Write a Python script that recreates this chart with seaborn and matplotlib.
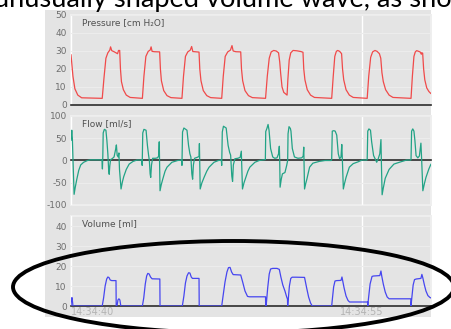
import matplotlib
matplotlib.use("Agg")
import matplotlib.pyplot as plt
import seaborn as sns
from matplotlib.patches import Rectangle, Ellipse
from matplotlib.ticker import FixedLocator, MultipleLocator

# pressure trace [cm H2O], time in seconds after 14:34:40
pressure_t = [0, 0.1, 0.2, 0.35, 0.55, 1.61,
              1.70, 1.80, 1.90, 2.0, 2.04, 2.1, 2.22, 2.32, 2.40, 2.45, 2.51, 2.55, 2.60, 2.70, 2.85, 3.05, 3.68,
              3.76, 3.86, 3.98, 4.08, 4.13, 4.18, 4.30, 4.57, 4.61, 4.66, 4.78, 4.95, 5.15, 5.72,
              5.80, 5.90, 6.02, 6.15, 6.22, 6.28, 6.40, 6.60, 6.64, 6.70, 6.82, 7.00, 7.20, 7.77,
              7.85, 7.95, 8.08, 8.22, 8.30, 8.36, 8.50, 8.75, 8.79, 8.85, 8.97, 9.15, 9.35, 10.03,
              10.12, 10.22, 10.32, 10.45, 10.58, 10.70, 10.76, 10.81, 10.88, 10.97, 11.08, 11.14,
              11.18, 11.25, 11.33, 11.45, 11.65, 11.85, 11.96, 12.0, 12.06, 12.18, 12.35, 12.55, 13.44,
              13.52, 13.60, 13.68, 13.75, 13.85, 13.95, 14.0, 14.06, 14.18, 14.35, 14.55, 15.27,
              15.35, 15.45, 15.55, 15.67, 15.78, 15.90, 15.97, 16.03, 16.10, 16.22, 16.40, 16.60, 17.53,
              17.60, 17.68, 17.75, 17.82, 17.95, 18.02, 18.06, 18.09, 18.13, 18.18, 18.24, 18.34, 18.45, 18.56]
pressure_v = [28, 16, 9, 5.5, 4.0, 3.7,
              15, 26, 29, 30.5, 32.3, 30.2, 29.6, 29.0, 28.5, 30.3, 30.3, 20, 13, 8.5, 5.5, 4.2, 3.7,
              16, 27, 29.8, 30.5, 32.3, 29.8, 29.6, 29.5, 20, 13.5, 8, 5.2, 4.1, 3.7,
              16, 27, 29.5, 30.5, 32.5, 29.7, 29.6, 29.4, 20, 13.5, 8, 5.2, 4.1, 3.7,
              16, 27, 29.5, 30.5, 33, 30.0, 29.6, 29.5, 20, 13.5, 8, 5.2, 4.1, 3.7,
              16, 26, 29.5, 30.3, 30.0, 29.0, 24, 17.5, 10, 7, 6, 5.5,
              14, 25, 29, 30.3, 30.1, 29.7, 29.3, 20, 14, 8.5, 5.5, 4.2, 3.7,
              16, 27, 29.8, 30.3, 29.8, 28.5, 20, 14, 8.5, 5.5, 4.2, 3.7,
              16, 26.5, 29.5, 30.3, 29.8, 28.5, 26, 18, 13, 8.5, 5.5, 4.2, 3.7,
              16, 27, 29.5, 30.2, 29.7, 29.3, 28.2, 29.0, 28.8, 20, 14, 9.5, 7.5, 6.3]

# flow trace [ml/s]
flow_t = [0, 0.04, 0.07, 0.10, 0.16, 0.22, 0.30, 0.40, 0.50, 0.65, 0.85, 1.0, 1.58,
          1.60, 1.62, 1.64, 1.66, 1.72, 1.80, 1.85, 1.90, 1.94, 1.97, 2.00, 2.04, 2.12, 2.22, 2.30, 2.34, 2.38,
          2.43, 2.47, 2.50, 2.58, 2.65, 2.72, 2.85, 3.0, 3.2, 3.4, 3.65,
          3.67, 3.70, 3.76, 3.87, 3.94, 4.00, 4.04, 4.08, 4.11, 4.15, 4.21, 4.35, 4.46, 4.52, 4.55, 4.57,
          4.59, 4.65, 4.73, 4.85, 4.95, 5.2, 5.5, 5.70,
          5.72, 5.75, 5.82, 5.98, 6.06, 6.13, 6.18, 6.23, 6.27, 6.31, 6.37, 6.50, 6.60, 6.62, 6.64, 6.66,
          6.75, 6.86, 7.0, 7.12, 7.37, 7.6, 7.75,
          7.77, 7.80, 7.86, 8.00, 8.10, 8.18, 8.23, 8.29, 8.33, 8.37, 8.45, 8.60, 8.72, 8.78, 8.81, 8.84,
          8.92, 9.01, 9.12, 9.22, 9.48, 9.7, 10.0,
          10.02, 10.04, 10.10, 10.16, 10.21, 10.29, 10.40, 10.50, 10.62, 10.70, 10.74, 10.76, 10.78, 10.84,
          10.90, 11.03, 11.12, 11.17,
          11.19, 11.24, 11.31, 11.34, 11.41, 11.52, 11.70, 11.90, 11.97, 12.00, 12.02, 12.04, 12.10, 12.16,
          12.30, 12.47, 12.8, 13.1, 13.42,
          13.44, 13.47, 13.55, 13.62, 13.70, 13.78, 13.85, 13.92, 13.96, 14.00, 14.04, 14.10, 14.18, 14.35,
          14.55, 14.8, 15.0, 15.25,
          15.27, 15.30, 15.36, 15.44, 15.50, 15.60, 15.70, 15.76, 15.84, 15.92, 15.98, 16.00, 16.04, 16.10,
          16.20, 16.40, 16.65, 17.0, 17.3, 17.51,
          17.53, 17.56, 17.62, 17.68, 17.73, 17.79, 17.88, 17.96, 18.00, 18.04, 18.08, 18.14, 18.22, 18.30,
          18.45, 18.56]
flow_v = [45, 68, 50, 5, -76, -60, -42, -22, -10, -4, 0, 1.5, 1.5,
          -2, -19, 10, 62, 70, 68, 45, 15, -20, -31, -12, 2, 4, 8, 25, 35, 12,
          8, 17, -20, -64, -48, -36, -20, -8, -2, 1, 1,
          -11, 62, 70, 68, 34, 12, 0, -30, -38, -10, 5, 5, 6, 10, 42, -20,
          -68, -55, -42, -24, -15, -4, 0, 1,
          -11, 64, 73, 68, 34, 15, 8, -30, -42, -10, 5, 7, 9, 38, -20, -64,
          -50, -38, -24, -15, -4, 0, 1,
          -11, 64, 77, 73, 34, 18, 12, -35, -47, -10, 4, 5, 7, 21, -20, -64,
          -50, -38, -24, -15, -4, 0, 2,
          2, 65, 72, 81, 68, 27, 8, 5, 6, 15, 32, 0, -60, -42,
          -30, -27, -11, 0,
          60, 76, 72, 66, 27, 8, 5, 6, 10, 30, -20, -64, -52, -42,
          -15, -6, -2, 0, 0,
          2, 66, 67, 66, 57, 15, 4, 8, 36, -10, -64, -52, -38, -15,
          -7, -3, 1, 1,
          2, 66, 71, 68, 42, 11, 2, -4, 4, 15, 47, 0, -77, -62,
          -40, -20, -8, -3, 1, 1,
          2, 66, 71, 66, 45, 11, 6, 10, 25, 39, 0, -68, -52, -38,
          -19, -8]

# volume trace [ml]
volume_t = [0, 0.02, 0.05, 0.08, 0.10, 1.61,
            1.68, 1.76, 1.84, 1.90, 1.96, 2.02, 2.10, 2.32, 2.33, 2.38, 2.42, 2.47, 2.52, 2.56, 2.58, 3.68,
            3.75, 3.83, 3.90, 3.96, 4.03, 4.10, 4.18, 4.58, 4.59, 5.74,
            5.82, 5.90, 5.98, 6.06, 6.13, 6.20, 6.26, 6.60, 6.61, 7.77,
            7.84, 7.94, 8.04, 8.12, 8.20, 8.28, 8.36, 8.75, 8.85, 8.97, 9.10, 9.20, 10.03, 10.035,
            10.06, 10.14, 10.22, 10.29, 10.40, 10.62, 10.74, 10.82, 10.92, 11.03, 11.12, 11.16, 11.17,
            11.19, 11.26, 11.33, 11.40, 11.60, 12.04, 12.15, 12.25, 12.35, 12.42, 12.45, 13.44,
            13.47, 13.54, 13.61, 13.70, 13.92, 13.97, 14.01, 14.08, 14.18, 14.28, 14.36, 15.29, 15.30,
            15.34, 15.42, 15.52, 15.60, 15.92, 15.98, 16.02, 16.10, 16.20, 16.30, 16.40, 17.52, 17.53,
            17.57, 17.64, 17.71, 17.80, 18.04, 18.09, 18.14, 18.22, 18.30, 18.40, 18.50, 18.56]
volume_v = [0, 3, 4.2, 2, 0, 0,
            4, 10, 13.5, 14.5, 14.2, 13, 12.7, 12.7, 0, 0.5, 3.0, 3.6, 3.0, 0.5, 0, 0,
            4, 11, 15, 16.3, 16, 14.5, 13.6, 13.5, 0, 0,
            5, 11.5, 15, 16.6, 16.5, 14.5, 13.8, 13.8, 0, 0,
            5, 12, 17, 19.2, 19.3, 17, 15.7, 15.5, 12, 7.5, 4.8, 4.6, 4.6, 0,
            0, 9, 16, 18.5, 18.8, 18.8, 18.3, 14.5, 10.5, 7.5, 4.5, 3.5, 0,
            2, 10, 13.8, 14.4, 14.4, 14.3, 9, 4.5, 1.5, 0.3, 0, 0,
            3, 9.5, 12.5, 12.7, 12.8, 14.5, 12.5, 9, 5, 2.8, 2.0, 2.0, 0,
            4, 11, 14.8, 15, 15.2, 17.5, 15, 11, 7, 4.5, 3.6, 3.6, 0,
            4, 10.5, 13.2, 13.5, 13.8, 15.8, 14, 10.5, 7.5, 5.2, 4.3, 4.0]

time_ticks = [0, 15]
time_labels = ["14:34:40", "14:34:55"]

W, H = 452, 329
BG = "#e4e4e4"

sns.set_style("white")
plt.rcParams["font.family"] = ["DejaVu Sans"]
plt.rcParams["axes.unicode_minus"] = False

fig = plt.figure(figsize=(W / 100, H / 100), dpi=100)


def px_axes(x0, y_top, x1, y_bot):
    return fig.add_axes([x0 / W, 1 - y_bot / H, (x1 - x0) / W, (y_bot - y_top) / H])


# grey instrument panel behind the three graphs
fig.patches.append(Rectangle((45 / W, 1 - 317 / H), (431 - 45) / W, (317 - 10) / H,
                             transform=fig.transFigure, facecolor=BG, edgecolor="none", zorder=-10))


def style_panel(ax, ylim, yticks, title, show_time=False):
    ax.set_facecolor("none")
    ax.set_xlim(0, 18.56)
    ax.set_ylim(*ylim)
    ax.set_yticks(yticks)
    ax.set_xlabel("")
    ax.set_ylabel("")
    ax.tick_params(axis="y", length=0, pad=3, labelsize=6.5, labelcolor="#6e6e6e")
    ax.xaxis.set_major_locator(FixedLocator(time_ticks))
    ax.xaxis.set_minor_locator(MultipleLocator(1))
    ax.tick_params(axis="x", which="both", direction="in", length=3, width=0.6, color="#a8a8a8")
    ax.grid(axis="y", color="#ececec", lw=0.8)
    ax.grid(axis="x", which="major", color="white", lw=1)
    ax.set_axisbelow(True)
    for s in ["top", "right", "left"]:
        ax.spines[s].set_visible(False)
    ax.spines["bottom"].set_position(("data", 0))
    ax.spines["bottom"].set_color("#2a2a2a")
    ax.spines["bottom"].set_linewidth(1.2)
    ax.spines["bottom"].set_zorder(1.5)
    if show_time:
        ax.set_xticklabels(time_labels)
        ax.tick_params(axis="x", which="major", labelsize=7, labelcolor="#b4b4b4", pad=1)
        ax.get_xticklabels()[0].set_ha("left")
    else:
        ax.tick_params(axis="x", labelbottom=False)
    ax.add_patch(Rectangle((0, 0), 1, 1, transform=ax.transAxes, facecolor="none",
                           edgecolor="#efefef", lw=1.4, clip_on=False, zorder=0.5))
    ax.text(0.03, 1 - 3 / 90, title, transform=ax.transAxes, ha="left", va="top",
            fontsize=6.5, color="#505050")


ax_p = px_axes(71, 15, 431, 105)
sns.lineplot(x=pressure_t, y=pressure_v, ax=ax_p, color="#f04a4a", linewidth=0.9,
             estimator=None, sort=False)
style_panel(ax_p, (0, 50), [0, 10, 20, 30, 40, 50], "Pressure [cm H\u2082O]")

ax_f = px_axes(71, 116, 431, 205)
sns.lineplot(x=flow_t, y=flow_v, ax=ax_f, color="#22a386", linewidth=0.9,
             estimator=None, sort=False)
style_panel(ax_f, (-100, 100), [-100, -50, 0, 50, 100], "Flow [ml/s]")

ax_v = px_axes(71, 216, 431, 306)
sns.lineplot(x=volume_t, y=volume_v, ax=ax_v, color="#4646f0", linewidth=0.9,
             estimator=None, sort=False)
style_panel(ax_v, (0, 45), [0, 10, 20, 30, 40], "Volume [ml]", show_time=True)

# caption line cut off at the top of the screenshot
fig.text(-0.014, 1 - 6.5 / H, "unusually shaped volume wave, as shown", fontsize=19.6,
         family=["Lato", "DejaVu Sans"], color="black", va="baseline", ha="left")

# hand-drawn ellipse around the volume graph
fig.patches.append(Ellipse((233.5 / W, 1 - 287 / H), 441 / W, 92 / H,
                           transform=fig.transFigure, facecolor="none", edgecolor="black",
                           lw=2.8, zorder=10))

fig.savefig("out.png", dpi=100)
